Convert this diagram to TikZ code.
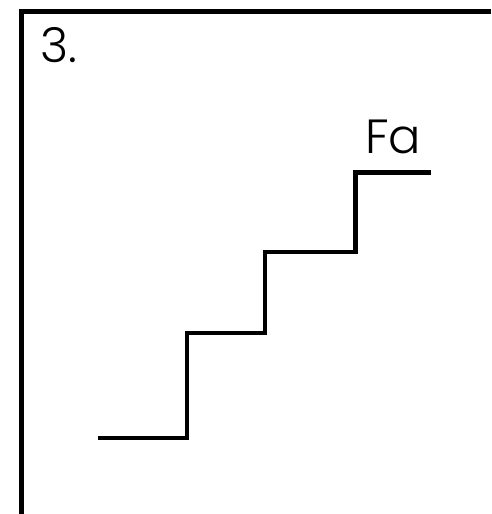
\documentclass[tikz,border=0pt]{standalone}
\usepackage{fontspec}
\setmainfont{Poppins Light}
\begin{document}
\begin{tikzpicture}[x=1pt,y=-1pt,
  frameline/.style={line width=5pt},
  stairline/.style={line width=4.5pt},
  label/.style={inner sep=0pt,anchor=base west,font=\fontsize{48}{48}\selectfont}]
\useasboundingbox (0,0) rectangle (491,514);
\fill[white] (0,0) rectangle (491,514);
\coordinate (tl) at (21.5,11.5);
\coordinate (tr) at (491,11.5);
\coordinate (bl) at (21.5,514);
\draw[frameline] (tr) -- (tl) -- (bl);
\coordinate (s0) at (98,438);
\coordinate (s1) at (187,438);
\coordinate (s2) at (187,333);
\coordinate (s3) at (265,333);
\coordinate (s4) at (265,252);
\coordinate (s5) at (355.5,252);
\coordinate (s6) at (355.5,172.5);
\coordinate (s7) at (431,172.5);
\draw[stairline] (s0) -- (s1) -- (s2) -- (s3) -- (s4) -- (s5) -- (s6) -- (s7);
\node[label] (num) at (40,62) {3.};
\node[label] (fa) at (365,153) {Fa};
\end{tikzpicture}
\end{document}
